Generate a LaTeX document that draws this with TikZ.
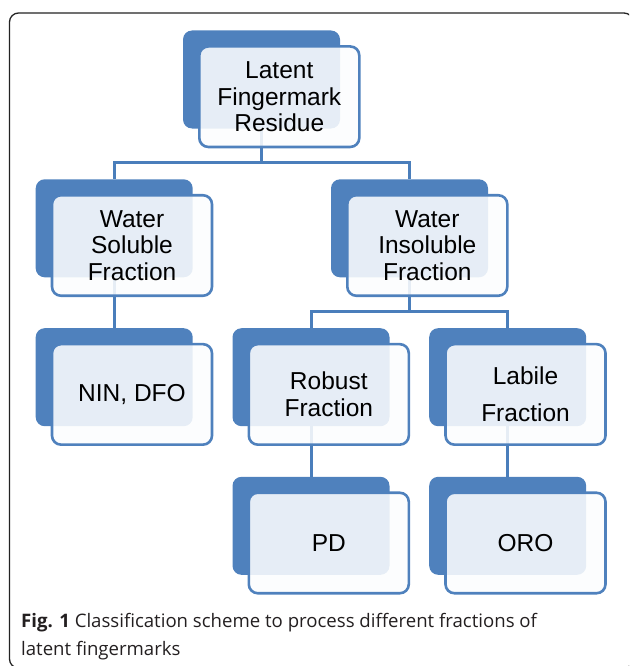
\documentclass[tikz,border=0pt]{standalone}
\usepackage{fontspec}
\setmainfont{Liberation Sans}
\newfontfamily\capfont{Open Sans}
\definecolor{boxblue}{RGB}{79,129,189}
\definecolor{linkblue}{RGB}{74,126,187}
\definecolor{framegray}{RGB}{35,35,35}
\definecolor{captext}{RGB}{35,31,32}
\definecolor{frontfill}{RGB}{252,253,254}
\tikzset{
  backbox/.style={fill=boxblue, draw=none, rounded corners=9pt, minimum width=157pt, minimum height=98pt, inner sep=0pt},
  frontbox/.style={draw=boxblue, line width=2.6pt, fill=frontfill, fill opacity=0.88, text opacity=1, rounded corners=9pt, minimum width=160pt, minimum height=100.5pt, inner sep=0pt, align=center, font=\fontsize{24.5}{26.5}\selectfont},
  conn/.style={draw=linkblue, line width=3pt},
  capstyle/.style={inner sep=0pt, text=captext, font=\capfont\fontsize{18.6}{24}\selectfont},
}
\begin{document}
\begin{tikzpicture}[x=1pt,y=-1pt]
\useasboundingbox (0,0) rectangle (629,666);
\clip (0,0) rectangle (629,666);
% outer frame
\draw[line width=1.3pt, draw=framegray, rounded corners=9pt] (9.5,13) rectangle (633,668);
% back boxes
\node[backbox] (rootB) at (261.5,79.5) {};
\node[backbox] (wsB) at (114.2,228.3) {};
\node[backbox] (wiB) at (409.5,228.3) {};
\node[backbox] (ninB) at (114.2,377.2) {};
\node[backbox] (robB) at (311,377.2) {};
\node[backbox] (labB) at (507.7,377.2) {};
\node[backbox] (pdB) at (311,525.8) {};
\node[backbox] (oroB) at (507.7,525.8) {};
% junctions
\coordinate (j1) at (261.5,162);
\coordinate (j2) at (409.5,311);
% connectors
\draw[conn] (rootB.south) -- (j1);
\draw[conn] (wsB.north) |- (j1) -| (wiB.north);
\draw[conn] (wsB.south) -- (ninB.north);
\draw[conn] (wiB.south) -- (j2);
\draw[conn] (robB.north) |- (j2) -| (labB.north);
\draw[conn] (robB.south) -- (pdB.north);
\draw[conn] (labB.south) -- (oroB.north);
% front boxes
\node[frontbox] (root) at ([shift={(17.8,17.2)}]rootB.center) {Latent\\Fingermark\\Residue};
\node[frontbox] (ws) at ([shift={(17.8,17.2)}]wsB.center) {Water\\Soluble\\Fraction};
\node[frontbox] (wi) at ([shift={(17.8,17.2)}]wiB.center) {Water\\Insoluble\\Fraction};
\node[frontbox] (nin) at ([shift={(17.8,17.2)}]ninB.center) {NIN, DFO};
\node[frontbox] (rob) at ([shift={(17.8,17.2)}]robB.center) {Robust\\Fraction};
\node[frontbox] (lab) at ([shift={(17.8,17.2)}]labB.center) {Labile\\[10pt]Fraction};
\node[frontbox] (pd) at ([shift={(17.8,17.2)}]pdB.center) {PD};
\node[frontbox] (oro) at ([shift={(17.8,17.2)}]oroB.center) {ORO};
% caption
\node[capstyle, anchor=base west] (cap1) at (21,627) {\textbf{Fig. 1} Classification scheme to process different fractions of};
\node[capstyle, anchor=base west] (cap2) at (21,655) {latent fingermarks};
\end{tikzpicture}
\end{document}
